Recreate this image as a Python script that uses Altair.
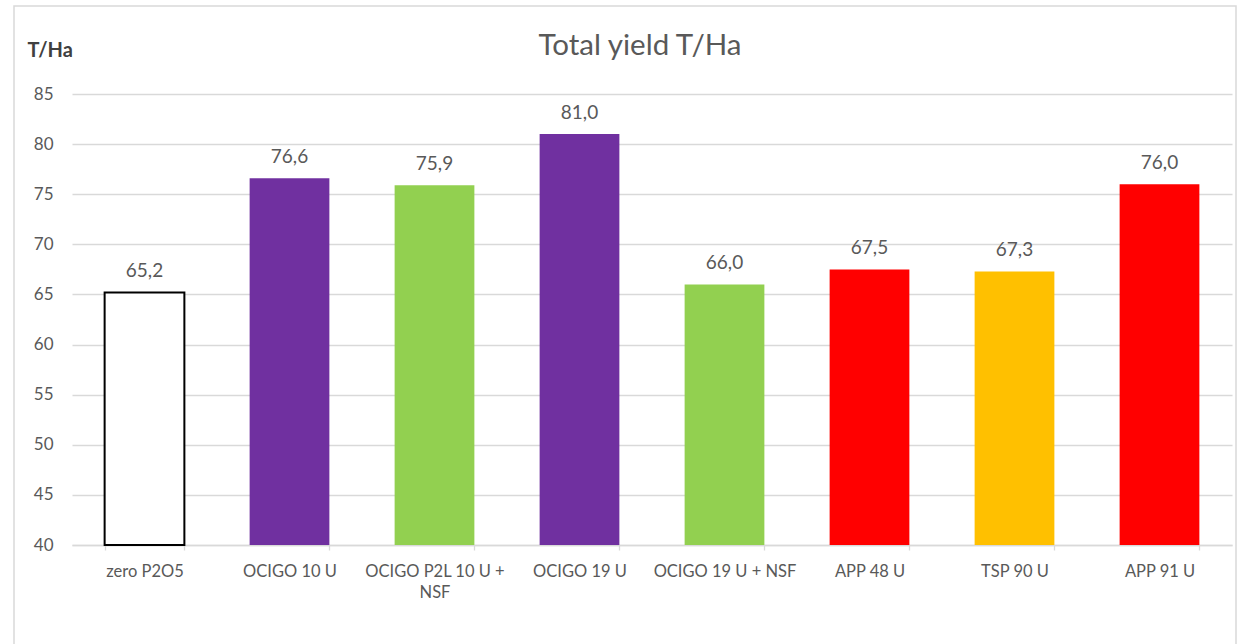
import altair as alt
import pandas as pd

categories = ["zero P2O5", "OCIGO 10 U", "OCIGO P2L 10 U + NSF", "OCIGO 19 U",
              "OCIGO 19 U + NSF", "APP 48 U", "TSP 90 U", "APP 91 U"]
yields = [65.2, 76.6, 75.9, 81.0, 66.0, 67.5, 67.3, 76.0]
bar_colors = ["#FFFFFF", "#7030A0", "#92D050", "#7030A0",
              "#92D050", "#FF0000", "#FFC000", "#FF0000"]
y_ticks = [40, 45, 50, 55, 60, 65, 70, 75, 80, 85]

df = pd.DataFrame({"category": categories, "yield": yields})

FONT = "Lato"
GREY = "#595959"
GRID = "#D9D9D9"

x_enc = alt.X(
    "category:N",
    sort=categories,
    title=None,
    scale=alt.Scale(paddingInner=0.45, paddingOuter=0.225),
    axis=alt.Axis(
        labelAngle=0,
        labelFont=FONT,
        labelFontSize=16.5,
        labelColor=GREY,
        labelBaseline="top",
        labelPadding=13,
        labelLineHeight=21,
        labelLimit=200,
        labelExpr="length(datum.label) > 18 ? [slice(datum.label, 0, lastindexof(datum.label, ' ')), slice(datum.label, lastindexof(datum.label, ' ') + 1)] : datum.label",
        domainColor=GRID,
        domainWidth=1.3,
        ticks=True,
        tickBand="extent",
        tickColor=GRID,
        tickWidth=1.3,
        tickSize=5,
        grid=False,
    ),
)

y_enc = alt.Y(
    "yield:Q",
    scale=alt.Scale(domain=[40, 85], zero=False, clamp=True, nice=False),
    title="T/Ha",
    axis=alt.Axis(
        values=y_ticks,
        labelFont=FONT,
        labelFontSize=17,
        labelColor=GREY,
        labelPadding=19,
        domain=False,
        ticks=False,
        grid=True,
        gridColor=GRID,
        gridWidth=1.3,
        titleAngle=0,
        titleAlign="left",
        titleBaseline="top",
        titleX=-45,
        titleY=-54,
        titleFont=FONT,
        titleFontSize=20,
        titleFontWeight="bold",
        titleColor="#404040",
    ),
)

bars = alt.Chart(df).mark_bar(strokeWidth=2).encode(
    x=x_enc,
    y=y_enc,
    color=alt.Color("category:N", scale=alt.Scale(domain=categories, range=bar_colors), legend=None),
    stroke=alt.condition(alt.datum.category == "zero P2O5", alt.value("#000000"), alt.value("transparent")),
)

labels = alt.Chart(df).transform_calculate(
    lab="replace(format(datum.yield, '.1f'), '.', ',')"
).mark_text(
    baseline="alphabetic", dy=-15, font=FONT, fontSize=19, color=GREY
).encode(
    x=alt.X("category:N", sort=categories),
    y=alt.Y("yield:Q"),
    text="lab:N",
)

frame = alt.Chart(pd.DataFrame({"f": [0]})).mark_rect(
    fill=None, stroke=GRID, strokeWidth=1.5
).encode(
    x=alt.value(-58), x2=alt.value(1164), y=alt.value(-88), y2=alt.value(570)
)

chart = alt.layer(frame, bars, labels).properties(
    width=1160,
    height=451,
    title=alt.TitleParams(
        "Total yield T/Ha",
        font=FONT,
        fontSize=29.5,
        fontWeight="normal",
        color=GREY,
        anchor="middle",
        frame="group",
        baseline="alphabetic",
        offset=-79,
        dx=-12,
    ),
    padding={"left": 72, "top": 94, "right": 13, "bottom": 99},
    autosize=alt.AutoSizeParams(type="none"),
    background="white",
).configure_view(stroke=None)

chart.save("out.html", embed_options={"renderer": "svg", "actions": False})
